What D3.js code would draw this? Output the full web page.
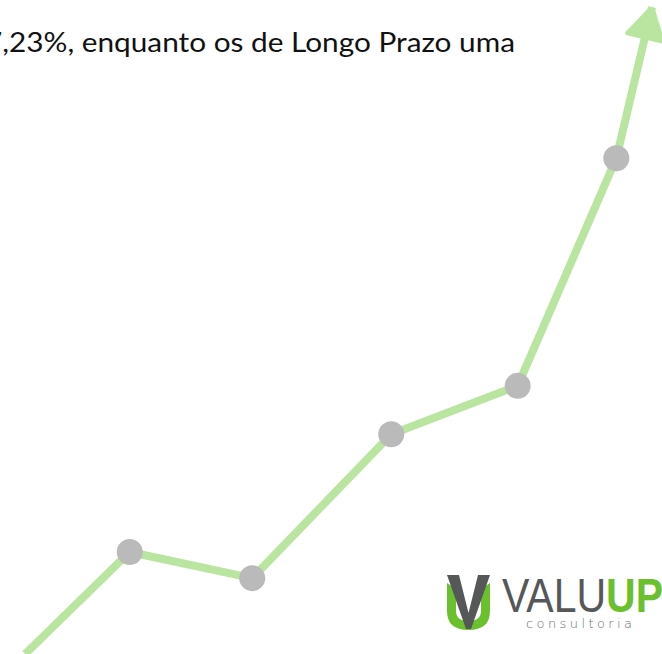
<!DOCTYPE html>
<html>
<head>
<meta charset="utf-8">
<script src="https://cdn.jsdelivr.net/npm/d3@7"></script>
<style>
  body { margin: 0; background: #fff; }
  svg { display: block; }
</style>
</head>
<body>
<div id="chart"></div>
<script>
//
// Data
//
var periods = [3.8, 19.6, 38.1, 59.1, 78.2, 93.1, 98.5];   // last one = arrow tip
var values  = [0, 15.6, 11.6, 33.6, 41.0, 75.8, 98.9];
var headline = "7,23%, enquanto os de Longo Prazo uma";

var width = 662,
    height = 654;

var x = d3.scaleLinear().domain([0, 100]).range([0, width]);
var y = d3.scaleLinear().domain([0, 100]).range([654, 0]);

var svg = d3.select("#chart").append("svg")
    .attr("width", width)
    .attr("height", height);

var pts = periods.map(function(p, i) { return [p, values[i]]; });

// arrow head
svg.append("defs").append("marker")
    .attr("id", "arrow")
    .attr("markerUnits", "userSpaceOnUse")
    .attr("viewBox", "0 0 46 46")
    .attr("refX", 42)
    .attr("refY", 23)
    .attr("markerWidth", 46)
    .attr("markerHeight", 46)
    .attr("orient", "auto")
  .append("path")
    .attr("d", "M12,3 L41,20 Q43,23 41,26 L12,43 Q9,44 9,41 L9,5 Q9,2 12,3 Z")
    .attr("fill", "#b9e5a1");

var line = d3.line()
    .x(function(d) { return x(d[0]); })
    .y(function(d) { return y(d[1]); });

svg.append("path")
    .datum(pts)
    .attr("d", line)
    .attr("fill", "none")
    .attr("stroke", "#b9e5a1")
    .attr("stroke-width", 8)
    .attr("stroke-linejoin", "round")
    .attr("marker-end", "url(#arrow)");

svg.selectAll("circle.dot")
    .data(pts.slice(1, 6))
    .enter().append("circle")
    .attr("class", "dot")
    .attr("cx", function(d) { return x(d[0]); })
    .attr("cy", function(d) { return y(d[1]); })
    .attr("r", 13)
    .attr("fill", "#bababa");

// headline text (cut at the left edge)
svg.append("text")
    .attr("x", -15)
    .attr("y", 52)
    .attr("font-family", "Lato, 'Open Sans', sans-serif")
    .attr("font-size", 26)
    .attr("textLength", 530)
    .attr("lengthAdjust", "spacingAndGlyphs")
    .attr("fill", "#111")
    .text(headline);

// logo
var logo = svg.append("g").attr("transform", "translate(447,575)");
logo.append("path")
    .attr("d", "M0,8 L9,14 L9,36 Q9,46 21.5,46 Q34,46 34,36 L34,14 L43,8 L43,36 Q43,55 21.5,55 Q0,55 0,36 Z")
    .attr("fill", "#6bc02e");
logo.append("path")
    .attr("d", "M0,0 L12,0 L21.5,38 L31,0 L43,0 L24,54 L19,54 Z")
    .attr("fill", "#555759");
logo.append("text")
    .attr("x", 55).attr("y", 37)
    .attr("font-family", "'Liberation Sans Narrow', 'Liberation Sans', sans-serif")
    .attr("font-size", 49)
    .attr("textLength", 161)
    .attr("lengthAdjust", "spacingAndGlyphs")
    .attr("fill", "#555759")
    .text("VALU")
  .append("tspan")
    .attr("fill", "#6bc02e")
    .attr("font-weight", "bold")
    .text("UP");
logo.append("text")
    .attr("x", 79).attr("y", 53)
    .attr("font-family", "'DejaVu Sans', sans-serif")
    .attr("font-weight", 300)
    .attr("font-size", 13)
    .attr("textLength", 106)
    .attr("lengthAdjust", "spacing")
    .attr("fill", "#6d6f71")
    .text("consultoria");
</script>
</body>
</html>
